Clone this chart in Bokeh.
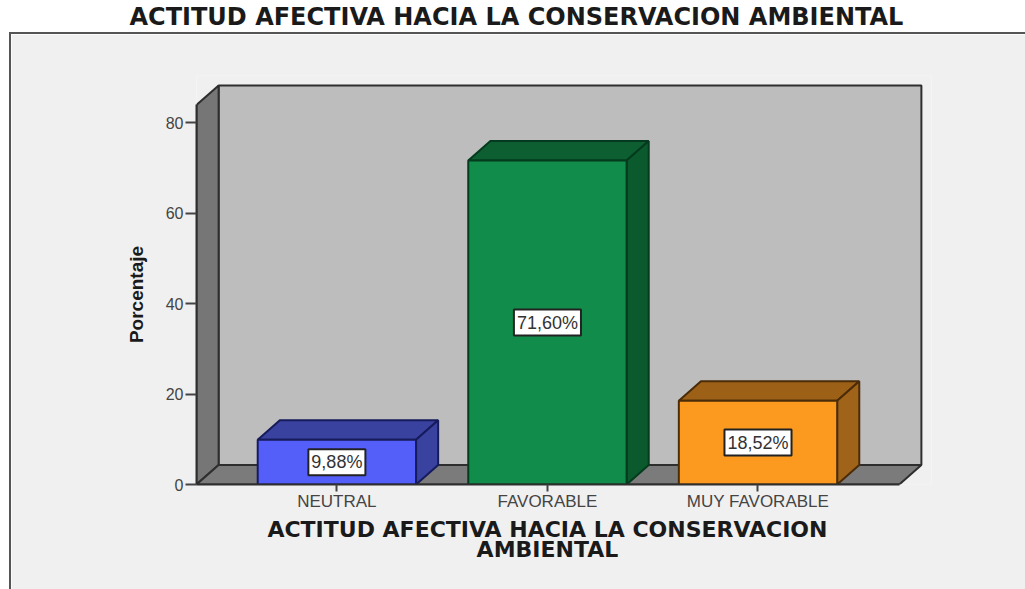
from bokeh.plotting import figure
from bokeh.layouts import column
from bokeh.models import FixedTicker, ColumnDataSource, Range1d, Label
from bokeh.core.properties import value
from bokeh.embed import file_html
from bokeh.resources import INLINE
import math

TITLE = "ACTITUD AFECTIVA HACIA LA CONSERVACION AMBIENTAL"
X_LABEL = "ACTITUD AFECTIVA HACIA LA CONSERVACION\nAMBIENTAL"
Y_LABEL = "Porcentaje"
categories = ["NEUTRAL", "FAVORABLE", "MUY FAVORABLE"]
percentages = [9.88, 71.60, 18.52]
value_labels = ["9,88%", "71,60%", "18,52%"]
y_ticks = [0, 20, 40, 60, 80]

front_colors = ["#545ffa", "#118c4a", "#fb9a1e"]
top_colors = ["#3a429f", "#0d5f32", "#9c6016"]
side_colors = ["#3a429f", "#0a5a2e", "#a0631a"]
edge_colors = ["#161b5c", "#043a1d", "#4a2c08"]

BAR_W = 0.752
DX, DY = 0.105, 4.31
X0, X1 = -0.6667, 2.671
Y_TOP = 83.9
PANEL = "#f0f0f0"

# title strip on white
pt = figure(width=1025, height=32, output_backend="svg", toolbar_location=None,
            x_axis_location=None, y_axis_location=None, x_range=Range1d(0, 1), y_range=Range1d(0, 1),
            min_border=0, outline_line_color=None, border_fill_color="white", background_fill_color="white")
pt.grid.visible = False
pt.title.text = TITLE
pt.title.align = "left"
pt.title.offset = -56
pt.title.standoff = 0
pt.title.text_font = "DejaVu Sans"
pt.title.text_font_size = "24px"
pt.title.text_font_style = "bold"
pt.title.text_color = "#1a1a1a"

p = figure(width=1016, height=557, output_backend="svg", toolbar_location=None,
           x_range=Range1d(X0, 2.824), y_range=Range1d(0, 90.4),
           min_border_left=185, min_border_right=96, min_border_bottom=107, min_border_top=41,
           background_fill_color=PANEL, border_fill_color=PANEL, outline_line_color=None,
           margin=(0, 0, 0, 9))
p.styles = {"border-left": "2px solid #555555", "border-top": "2px solid #555555", "box-sizing": "border-box"}
p.grid.visible = False

# walls
wall = "#2e2e2e"
p.patch([X0 + DX, X1 + DX, X1 + DX, X0 + DX], [DY, DY, Y_TOP + DY, Y_TOP + DY],
        fill_color="#bdbdbd", line_color=wall, line_width=2)
p.patch([X0, X0 + DX, X0 + DX, X0], [0, DY, Y_TOP + DY, Y_TOP],
        fill_color="#767676", line_color=wall, line_width=2)
p.patch([X0, X1, X1 + DX, X0 + DX], [0, 0, DY, DY],
        fill_color="#7b7b7b", line_color=wall, line_width=2)

# bars
for i, v in enumerate(percentages):
    l, r = i - BAR_W / 2, i + BAR_W / 2
    p.patch([l, r, r + DX, l + DX], [v, v, v + DY, v + DY],
            fill_color=top_colors[i], line_color=edge_colors[i], line_width=2)
    p.patch([r, r + DX, r + DX, r], [0, DY, v + DY, v],
            fill_color=side_colors[i], line_color=edge_colors[i], line_width=2)
    p.patch([l, r, r, l], [0, 0, v, v],
            fill_color=front_colors[i], line_color=edge_colors[i], line_width=2)

src = ColumnDataSource(dict(x=[0, 1, 2], y=[v / 2 for v in percentages], t=value_labels))
p.text(x="x", y="y", text="t", source=src, text_align="center", text_baseline="middle",
       text_font=value("Liberation Sans"), text_font_size="18px", text_color="#333333",
       background_fill_color="white", border_line_color="#222222", border_line_width=2, padding=3)

# axes
xa = p.xaxis[0]
xa.ticker = FixedTicker(ticks=[0, 1, 2])
xa.major_label_overrides = {i: c for i, c in enumerate(categories)}
xa.bounds = (X0, X1)
xa.major_label_text_font = "Liberation Sans"
xa.major_label_text_font_size = "17px"
xa.major_label_text_color = "#444444"
xa.major_tick_out = 7
xa.major_tick_in = 0
xa.minor_tick_line_color = None
xa.axis_line_color = wall
xa.axis_line_width = 2
xa.major_tick_line_color = "#444444"
xa.major_tick_line_width = 2
xa.major_label_standoff = 0

ya = p.yaxis[0]
ya.ticker = FixedTicker(ticks=y_ticks)
ya.bounds = (0, Y_TOP)
ya.major_label_text_font = "Liberation Sans"
ya.major_label_text_font_size = "16px"
ya.major_label_text_color = "#444444"
ya.major_tick_out = 11
ya.major_tick_in = 0
ya.minor_tick_line_color = None
ya.axis_line_color = wall
ya.axis_line_width = 2
ya.major_tick_line_color = "#444444"
ya.major_tick_line_width = 2
ya.major_label_standoff = 2

p.add_layout(Label(x=1, y=-12.15, text=X_LABEL, text_align="center", text_baseline="middle",
                   text_font="DejaVu Sans", text_font_style="bold", text_font_size="22px",
                   text_line_height=0.78, text_color="#1a1a1a"), "below")
p.add_layout(Label(x=-0.952, y=42, text=Y_LABEL, angle=math.pi / 2, text_align="center", text_baseline="middle",
                   text_font="Liberation Sans", text_font_style="bold", text_font_size="19px",
                   text_color="#1a1a1a"), "left")

page = column(pt, p, spacing=0)
open("out.html", "w").write(file_html(page, INLINE))
